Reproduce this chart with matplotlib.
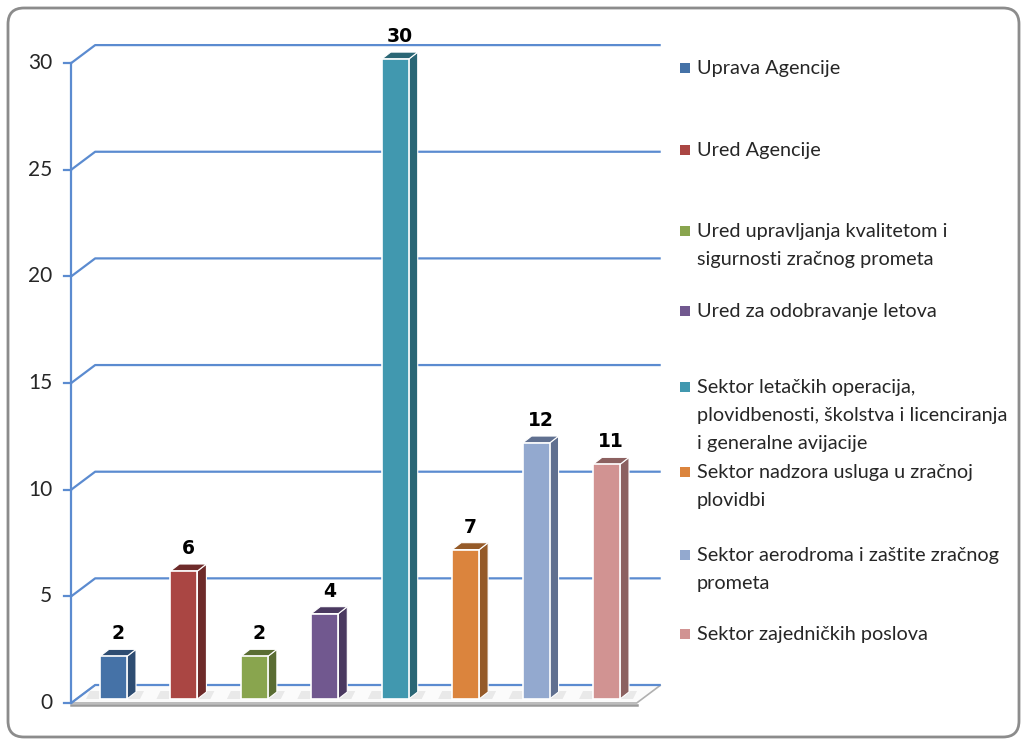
import matplotlib.pyplot as plt
from matplotlib.patches import Polygon, FancyBboxPatch
from matplotlib.transforms import offset_copy

categories = ["Uprava Agencije",
              "Ured Agencije",
              "Ured upravljanja kvalitetom i\nsigurnosti zračnog prometa",
              "Ured za odobravanje letova",
              "Sektor letačkih operacija,\nplovidbenosti, školstva i licenciranja\ni generalne avijacije",
              "Sektor nadzora usluga u zračnoj\nplovidbi",
              "Sektor aerodroma i zaštite zračnog\nprometa",
              "Sektor zajedničkih poslova"]
values = [2, 6, 2, 4, 30, 7, 12, 11]
front_colors = ["#4572A7", "#AA4643", "#89A54E", "#71588F",
                "#4198AF", "#DB843D", "#93A9CF", "#D19392"]
side_colors = ["#2E4D72", "#6E2B2A", "#5A6D33", "#4A3960",
               "#2A6675", "#955A28", "#607090", "#8C6160"]
yticks = [0, 5, 10, 15, 20, 25, 30]
legend_y = [68, 150, 231, 311, 387, 472, 555, 634]  # first-line centre, px from top

W, H = 1026, 740
fig = plt.figure(figsize=(W / 100, H / 100), dpi=100)
ax = fig.add_axes([0, 0, 1, 1])
ax.axis("off")

# one category = 70.43 px, one unit = 21.33 px
sx, sy = 70.43, 21.33
x0_px, y0_px = 108.5, 37
ax.set_xlim(-x0_px / sx, (W - x0_px) / sx)
ax.set_ylim(-y0_px / sy, (H - y0_px) / sy)
px = 1 / sx
py = 1 / sy

blue = "#5B8BD0"
x_left, x_right = -0.53, 7.5
dxw, dyw = 24 * px, 18 * py

# outer rounded frame
frame = FancyBboxPatch((8, 3), W - 15, H - 11, boxstyle="round,pad=0,rounding_size=16",
                       transform=None, fill=False, ec="#8c8c8c", lw=2, zorder=0)
fig.patches.append(frame)

# floor
floor = Polygon([(x_left, 0), (x_right, 0), (x_right + dxw, dyw), (x_left + dxw, dyw)],
                closed=True, fc="#fbfbfb", ec="#b0b0b0", lw=1.2, zorder=1)
ax.add_patch(floor)
ax.plot([x_left, x_right], [-2 * py, -2 * py], color="#9a9a9a", lw=1.8, zorder=1)

# gridlines with the wall depth
for t in yticks:
    ax.plot([x_left, x_left + dxw, x_right + dxw], [t, t + dyw, t + dyw],
            color=blue, lw=1.6, zorder=2, solid_capstyle="butt")
    ax.plot([x_left - 7 * px, x_left], [t, t], color=blue, lw=1.6, zorder=2)
    ax.text(x_left - 19 * px, t, str(t), ha="right", va="center",
            fontsize=15, family="Lato", color="#262626")
ax.plot([x_left, x_left], [0, yticks[-1]], color=blue, lw=1.6, zorder=2)

# bars, set a little into the depth of the floor
trans = offset_copy(ax.transData, fig=fig, x=5, y=4, units="dots")
bw = 27 * px
dxb, dyb = 9 * px, 7 * py
xs = list(range(len(values)))
for i, v in enumerate(values):
    xl, xr = i - bw / 2, i + bw / 2
    shadow = Polygon([(xl - 14 * px, 0), (xr + dxb + 4 * px, 0),
                      (xr + dxb + 8 * px, dyb + 1 * py), (xl - 10 * px, dyb + 1 * py)],
                     closed=True, fc="#000000", alpha=0.07, ec="none",
                     transform=trans, zorder=3)
    ax.add_patch(shadow)
    side = Polygon([(xr, 0), (xr + dxb, dyb), (xr + dxb, v + dyb), (xr, v)],
                   closed=True, fc=side_colors[i], ec="white", lw=0.8,
                   transform=trans, zorder=4)
    top = Polygon([(xl, v), (xr, v), (xr + dxb, v + dyb), (xl + dxb, v + dyb)],
                  closed=True, fc=side_colors[i], ec="white", lw=0.8,
                  transform=trans, zorder=4)
    ax.add_patch(side)
    ax.add_patch(top)
    ax.text(i + dxb / 2, v + dyb + 6 * py, str(v), ha="center", va="bottom",
            fontsize=13.5, fontweight="bold", family="DejaVu Sans",
            transform=trans, zorder=6)
ax.bar(xs, values, width=bw, color=front_colors, edgecolor="white", linewidth=1.2,
       transform=trans, zorder=5)

# legend
for lab, col, ly in zip(categories, front_colors, legend_y):
    fig.patches.append(plt.Rectangle((680, H - ly - 5), 10, 10, transform=None,
                                     fc=col, ec="none"))
    fig.text(697 / W, 1 - (ly - 8) / H, lab, ha="left", va="top", fontsize=14.3,
             family="Lato", color="#262626", linespacing=1.8)

fig.savefig("out.png", dpi=100)
